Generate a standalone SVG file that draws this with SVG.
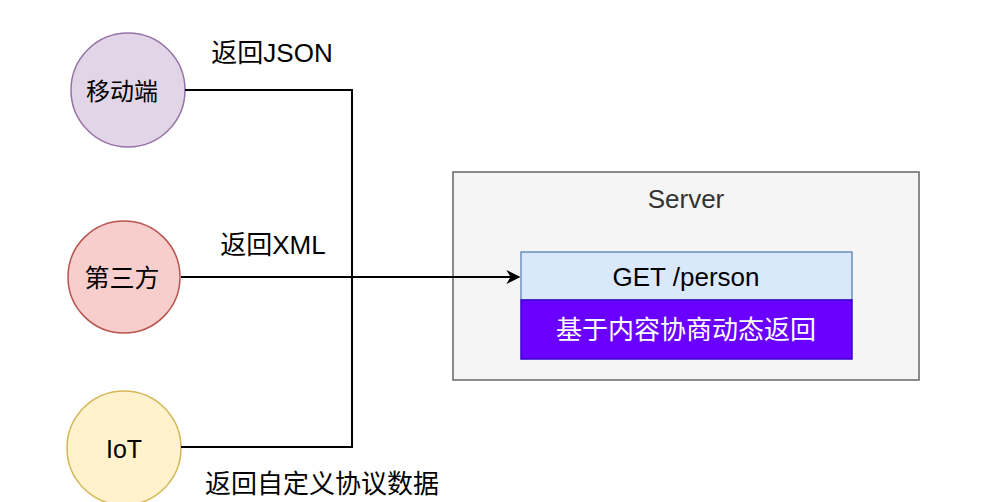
<svg xmlns="http://www.w3.org/2000/svg" width="988" height="502" viewBox="0 0 988 502">
<defs>
<marker id="arr" viewBox="0 0 10 10" refX="9" refY="5" markerWidth="14" markerHeight="14" markerUnits="userSpaceOnUse" orient="auto">
<path d="M0,0 L10,5 L0,10 L3,5 Z" fill="#000"/>
</marker>
</defs>
<style>
text{font-family:"Liberation Sans","Noto Sans CJK SC",sans-serif;font-size:26px;text-anchor:middle;dominant-baseline:central;fill:#000}
.conn{fill:none;stroke:#000;stroke-width:2}
</style>
<rect width="988" height="502" fill="#fff"/>
<g id="server">
<rect x="453" y="172" width="466" height="208" fill="#f5f5f5" stroke="#666" stroke-width="1.5"/>
<text x="686" y="199" style="fill:#333">Server</text>
</g>
<g id="mobile">
<circle cx="128" cy="90" r="57" fill="#e1d5e7" stroke="#9673a6" stroke-width="1.5"/>
<text x="122" y="91" style="font-size:24px">移动端</text>
</g>
<g id="third">
<circle cx="124" cy="277" r="56" fill="#f8cecc" stroke="#b85450" stroke-width="1.5"/>
<text x="122" y="278" style="font-size:25px">第三方</text>
</g>
<g id="iot">
<circle cx="124" cy="448" r="57" fill="#fff2cc" stroke="#d6b656" stroke-width="1.5"/>
<text x="124" y="449" style="font-size:25px">IoT</text>
</g>
<g id="get">
<rect x="521" y="252" width="331" height="48" fill="#dae8fc" stroke="#6c8ebf" stroke-width="1.5"/>
<text x="686" y="277">GET /person</text>
</g>
<g id="negotiation">
<rect x="521" y="300" width="331" height="59" fill="#6a00ff" stroke="#3700cc" stroke-width="1.5"/>
<text x="686" y="330" style="fill:#fff">基于内容协商动态返回</text>
</g>
<g id="connectors">
<path class="conn" d="M185,90 H352 V447 H181"/>
<path class="conn" d="M181,277 H519" marker-end="url(#arr)"/>
</g>
<g id="labels">
<text x="272" y="53">返回JSON</text>
<text x="273" y="245">返回XML</text>
<text x="322" y="484">返回自定义协议数据</text>
</g>
</svg>
